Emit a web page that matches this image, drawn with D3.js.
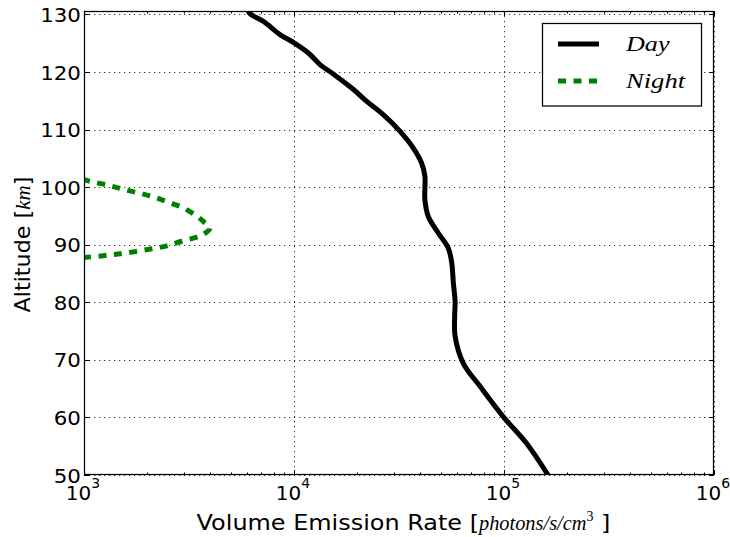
<!DOCTYPE html>
<html>
<head>
<meta charset="utf-8">
<script src="https://cdn.jsdelivr.net/npm/d3@7"></script>
<style>
  html, body { margin: 0; padding: 0; background: #fff; }
  svg { display: block; }
</style>
</head>
<body>
<svg id="chart" width="730" height="537"></svg>
<script>
// Volume emission rate profiles (photons/s/cm^3) versus altitude (km)
const dayAltitude = [130.6, 130, 128.8, 126.5, 125.1, 123.3, 121.3, 120.3, 119.8, 117, 114.9, 112.6, 109.7, 106.8, 104.2, 101.9, 97.8, 94.9, 92.0, 89.4, 86.8, 83.3, 80.1, 77.5, 74.1, 69.4, 65.4, 60.1, 55.5, 50];
const dayRate = [6040, 6240, 7150, 8580, 9970, 11700, 13300, 14500, 15200, 19140, 22200, 26600, 32000, 37000, 40500, 42000, 42000, 43600, 48700, 54300, 56400, 57400, 58500, 58200, 58500, 64000, 76900, 99300, 128000, 162000];

const nightAltitude = [101.4, 101.0, 100.4, 99.7, 99.0, 98.3, 97.4, 96.4, 95.0, 94.05, 92.9, 92.0, 91.4, 90.6, 89.8, 89.3, 88.8, 88.4, 88.1, 87.75];
const nightRate = [980, 1068, 1283, 1513, 1814, 2138, 2518, 2970, 3440, 3700, 3980, 3770, 3500, 2920, 2480, 2100, 1750, 1457, 1236, 980];

const xTickExponents = [3, 4, 5, 6];
const yTicks = [50, 60, 70, 80, 90, 100, 110, 120, 130];
const seriesNames = ["Day", "Night"];

(function () {
const svg = d3.select("#chart");
const pLeft = 84, pRight = 714, pTop = 11, pBottom = 475;

const x = d3.scaleLog().domain([1e3, 1e6]).range([pLeft, pRight]);
const y = d3.scaleLinear().domain([50, 130.6]).range([pBottom, pTop]);

svg.append("rect").attr("width", 730).attr("height", 537).attr("fill", "#fff");

// Grid
const grid = svg.append("g").attr("stroke", "#000").attr("stroke-width", 0.8)
  .attr("stroke-dasharray", "1.25,3.75");
xTickExponents.forEach(e => {
  const gx = Math.round(x(Math.pow(10, e))) + 0.5;
  grid.append("line").attr("x1", gx).attr("x2", gx).attr("y1", pTop).attr("y2", pBottom);
});
yTicks.forEach(v => {
  const gy = Math.round(y(v)) + 0.5;
  grid.append("line").attr("x1", pLeft).attr("x2", pRight).attr("y1", gy).attr("y2", gy);
});

// Data lines
svg.append("clipPath").attr("id", "plotClip")
  .append("rect").attr("x", pLeft).attr("y", pTop).attr("width", pRight - pLeft).attr("height", pBottom - pTop);

const line = d3.line()
  .x(d => x(d[1]))
  .y(d => y(d[0]))
  .curve(d3.curveCatmullRom.alpha(0.5));

const dayData = dayAltitude.map((a, i) => [a, dayRate[i]]);
const nightData = nightAltitude.map((a, i) => [a, nightRate[i]]);

const plot = svg.append("g").attr("clip-path", "url(#plotClip)");
plot.append("path").datum(dayData).attr("d", line)
  .attr("fill", "none").attr("stroke", "#000").attr("stroke-width", 5)
  .attr("stroke-linejoin", "round");
plot.append("path").datum(nightData).attr("d", line)
  .attr("fill", "none").attr("stroke", "#008000").attr("stroke-width", 5)
  .attr("stroke-dasharray", "8,7.5");

// Ticks (inward, on all four sides)
const ticks = svg.append("g").attr("stroke", "#000").attr("stroke-width", 1);
xTickExponents.forEach(e => {
  for (let m = 1; m <= 9; m++) {
    const v = m * Math.pow(10, e);
    if (v > 1e6) break;
    const tx = Math.round(x(v)) + 0.5;
    const len = m === 1 ? 5 : 2.5;
    ticks.append("line").attr("x1", tx).attr("x2", tx).attr("y1", pBottom).attr("y2", pBottom - len);
    ticks.append("line").attr("x1", tx).attr("x2", tx).attr("y1", pTop).attr("y2", pTop + len);
  }
});
yTicks.forEach(v => {
  const ty = Math.round(y(v)) + 0.5;
  ticks.append("line").attr("x1", pLeft).attr("x2", pLeft + 5).attr("y1", ty).attr("y2", ty);
  ticks.append("line").attr("x1", pRight).attr("x2", pRight - 5).attr("y1", ty).attr("y2", ty);
});

// Frame
svg.append("rect").attr("x", pLeft + 0.5).attr("y", pTop + 0.5)
  .attr("width", pRight - pLeft - 1).attr("height", pBottom - pTop - 1)
  .attr("fill", "none").attr("stroke", "#000").attr("stroke-width", 1.25);

const sans = "'DejaVu Sans', sans-serif";
const mathIt = "'Liberation Serif', 'DejaVu Serif', serif";

// Mixed text/math label: pieces laid out one after another, centred on 0
function richLabel(parent, pieces) {
  const g = parent.append("g");
  let cursor = 0;
  pieces.forEach(p => {
    const t = g.append("text").attr("x", 0).attr("y", 0)
      .attr("font-family", p.font).attr("font-size", p.size)
      .attr("font-style", p.italic ? "italic" : "normal")
      .attr("fill", "#000").attr("xml:space", "preserve").text(p.text);
    const sx = p.sx || 1;
    t.attr("transform", `translate(${cursor},${p.dy || 0}) scale(${sx},1)`);
    cursor += t.node().getComputedTextLength() * sx;
  });
  g.attr("transform", `translate(${-cursor / 2},0)`);
  return g;
}

// Tick labels
yTicks.forEach(v => {
  const t = svg.append("text").attr("x", 0).attr("y", 0)
    .attr("text-anchor", "end").attr("font-family", sans).attr("font-size", 20)
    .attr("fill", "#000").text(v);
  t.attr("transform", `translate(81,${y(v) + 7.5}) scale(1.07,1)`);
});
xTickExponents.forEach(e => {
  const t = svg.append("text").attr("x", x(Math.pow(10, e)) - 1).attr("y", 500)
    .attr("text-anchor", "middle").attr("font-family", sans).attr("font-size", 20).attr("fill", "#000");
  t.append("tspan").text("10");
  t.append("tspan").attr("dy", -12).attr("font-size", 14).text(e);
});

// Axis labels
const xLabelHolder = svg.append("g").attr("transform", "translate(403.5,529.5)");
richLabel(xLabelHolder, [
  { text: "Volume Emission Rate [", font: sans, size: 21, sx: 1.14 },
  { text: "photons/s/cm", font: mathIt, size: 21, italic: true, sx: 0.97 },
  { text: "3", font: mathIt, size: 14, dy: -9 },
  { text: " ]", font: sans, size: 21, sx: 1.14 }
]);

const yLabelHolder = svg.append("g").attr("transform", "translate(30,244.5) rotate(-90)");
richLabel(yLabelHolder, [
  { text: "Altitude [", font: sans, size: 21, sx: 1.06 },
  { text: "km", font: mathIt, size: 21, italic: true },
  { text: "]", font: sans, size: 21, sx: 1.06 }
]);

// Legend
const lg = svg.append("g");
lg.append("rect").attr("x", 542.5).attr("y", 23.5).attr("width", 159).attr("height", 82.5)
  .attr("fill", "#fff").attr("stroke", "#000").attr("stroke-width", 1.25);
const legendRows = [
  { name: seriesNames[0], color: "#000", dash: null, y: 44, width: 45 },
  { name: seriesNames[1], color: "#008000", dash: "8,7.5", y: 81, width: 61 }
];
legendRows.forEach(r => {
  lg.append("line").attr("x1", 558).attr("x2", 599).attr("y1", r.y).attr("y2", r.y)
    .attr("stroke", r.color).attr("stroke-width", 5)
    .attr("stroke-dasharray", r.dash);
  const t = lg.append("text").attr("x", 0).attr("y", 0)
    .attr("font-family", mathIt).attr("font-style", "italic").attr("font-size", 20)
    .attr("fill", "#000").text(r.name);
  const w = t.node().getBBox().width;
  t.attr("transform", `translate(626,${r.y + 7}) scale(${r.width / w},1)`);
});
})();
</script>
</body>
</html>
